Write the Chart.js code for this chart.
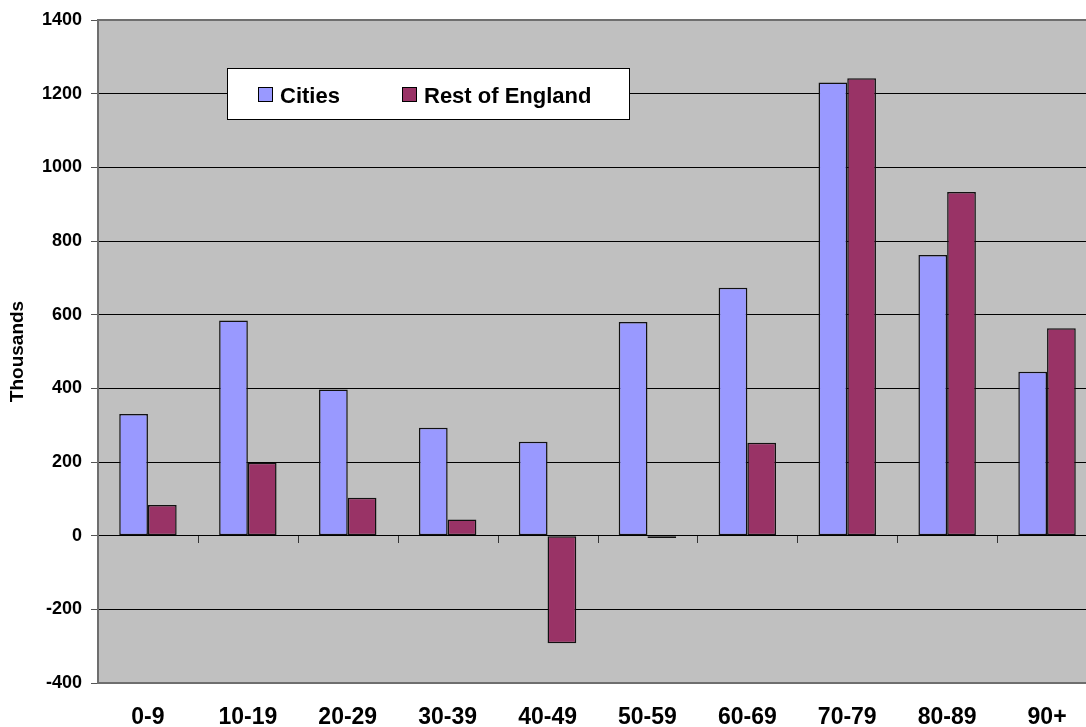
<!DOCTYPE html>
<html>
<head>
<meta charset="utf-8">
<script src="https://cdn.jsdelivr.net/npm/chart.js@4.4.1/dist/chart.umd.min.js"></script>
<style>
  html, body { margin: 0; padding: 0; background: #ffffff; overflow: hidden; }
  #wrap { width: 1086px; height: 727px; overflow: hidden; position: relative; }
  canvas { display: block; }
</style>
</head>
<body>
<div id="wrap"><canvas id="chart" width="1100" height="727"></canvas></div>
<script>
// Age bands along the category axis
const ageBands = ['0-9', '10-19', '20-29', '30-39', '40-49', '50-59', '60-69', '70-79', '80-89', '90+'];

// Change in thousands per age band
const citiesValues = [330, 584, 397, 293, 255, 580, 673, 1230, 762, 445];
const restOfEnglandValues = [83, 198, 103, 44, -292, -6, 252, 1242, 933, 563];

// Value axis range and step
const yMin = -400;
const yMax = 1400;
const yStep = 200;

const seriesNames = ['Cities', 'Rest of England'];
const seriesColors = ['#9999FF', '#993366'];

const FONT = '"Liberation Sans", Arial, Helvetica, sans-serif';

// Grey plot area with its frame
const plotFrame = {
  id: 'plotFrame',
  beforeDraw(chart) {
    const { ctx, chartArea: a } = chart;
    ctx.save();
    ctx.fillStyle = '#C0C0C0';
    ctx.fillRect(a.left, a.top, a.right - a.left, a.bottom - a.top);
    ctx.restore();
  },
  afterDraw(chart) {
    const { ctx, chartArea: a } = chart;
    ctx.save();
    ctx.strokeStyle = '#6e6e6e';
    ctx.lineWidth = 2;
    ctx.beginPath();
    ctx.moveTo(a.left, a.top);
    ctx.lineTo(a.right, a.top);
    ctx.moveTo(a.left, a.bottom);
    ctx.lineTo(a.right, a.bottom);
    ctx.stroke();
    ctx.restore();
  }
};

// Category tick marks hanging below the zero line
const zeroLineTicks = {
  id: 'zeroLineTicks',
  afterDatasetsDraw(chart) {
    const { ctx } = chart;
    const xs = chart.scales.x;
    const ys = chart.scales.y;
    const y0 = Math.round(ys.getPixelForValue(0));
    ctx.save();
    ctx.strokeStyle = '#333333';
    ctx.lineWidth = 1;
    ctx.beginPath();
    for (let i = 1; i <= ageBands.length; i++) {
      const px = Math.round(xs.getPixelForValue(i - 0.5)) + 0.5;
      ctx.moveTo(px, y0);
      ctx.lineTo(px, y0 + 7);
    }
    ctx.stroke();
    ctx.restore();
  }
};

// Boxed legend inside the plot area
const boxedLegend = {
  id: 'boxedLegend',
  afterDraw(chart) {
    const { ctx } = chart;
    const box = { x: 227.5, y: 68.5, w: 402, h: 51 };
    const itemX = [258, 402];
    ctx.save();
    ctx.fillStyle = '#ffffff';
    ctx.fillRect(box.x, box.y, box.w, box.h);
    ctx.strokeStyle = '#000000';
    ctx.lineWidth = 1;
    ctx.strokeRect(box.x, box.y, box.w, box.h);
    ctx.font = 'bold 22px ' + FONT;
    ctx.textBaseline = 'alphabetic';
    ctx.textAlign = 'left';
    chart.data.datasets.forEach((ds, i) => {
      const sx = itemX[i];
      ctx.fillStyle = ds.backgroundColor;
      ctx.fillRect(sx + 0.5, 87.5, 14, 14);
      ctx.strokeStyle = '#000000';
      ctx.strokeRect(sx + 0.5, 87.5, 14, 14);
      ctx.fillStyle = '#000000';
      ctx.fillText(ds.label, sx + 22, 103);
    });
    ctx.restore();
  }
};

new Chart(document.getElementById('chart'), {
  type: 'bar',
  data: {
    labels: ageBands,
    datasets: [
      {
        label: seriesNames[0],
        data: citiesValues,
        backgroundColor: seriesColors[0],
        borderColor: '#111111',
        borderWidth: 1.5,
        borderSkipped: false
      },
      {
        label: seriesNames[1],
        data: restOfEnglandValues,
        backgroundColor: seriesColors[1],
        borderColor: '#111111',
        borderWidth: 1.5,
        borderSkipped: false
      }
    ]
  },
  options: {
    responsive: false,
    animation: false,
    devicePixelRatio: 1,
    categoryPercentage: 0.575,
    barPercentage: 1.0,
    layout: { padding: { top: 20, right: 3, left: 0, bottom: 0 } },
    plugins: {
      legend: { display: false },
      tooltip: { enabled: false }
    },
    scales: {
      x: {
        offset: true,
        grid: { display: false, drawTicks: false },
        border: { display: false },
        ticks: {
          color: '#000000',
          font: { family: FONT, size: 23, weight: 'bold' },
          padding: 21,
          maxRotation: 0,
          autoSkip: false
        },
        afterFit(scale) { scale.height = 44; }
      },
      y: {
        min: yMin,
        max: yMax,
        grid: {
          color: '#000000',
          lineWidth: 1,
          drawTicks: true,
          tickLength: 7,
          tickColor: '#555555'
        },
        border: { display: true, color: '#6e6e6e', width: 2 },
        ticks: {
          stepSize: yStep,
          color: '#000000',
          font: { family: FONT, size: 18, weight: 'bold' },
          padding: 9,
          callback: (value) => String(value)
        },
        title: {
          display: true,
          text: 'Thousands',
          color: '#000000',
          font: { family: FONT, size: 19, weight: 'bold' },
          padding: { top: 6, bottom: 0 }
        },
        afterFit(scale) { scale.width = 98; }
      }
    }
  },
  plugins: [plotFrame, zeroLineTicks, boxedLegend]
});
</script>
</body>
</html>
